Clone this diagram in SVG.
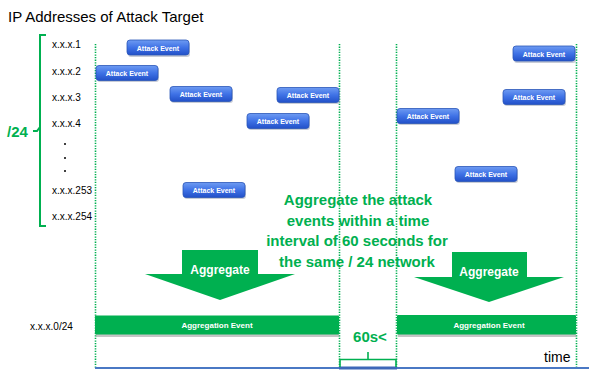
<svg xmlns="http://www.w3.org/2000/svg" width="589" height="372" viewBox="0 0 589 372">
<defs>
<linearGradient id="blue" x1="0" y1="0" x2="0" y2="1">
<stop offset="0" stop-color="#6E9BF2"/>
<stop offset="0.5" stop-color="#3F72E6"/>
<stop offset="1" stop-color="#2250C8"/>
</linearGradient>
<style>
text{font-family:"Liberation Sans",Arial,sans-serif}
.lbl{font-size:10px;fill:#000}
.ev rect.b{fill:url(#blue);stroke:#2A55B8;stroke-width:0.8}
.ev rect.s{fill:#9AA3B5;opacity:0.55}
.ev text{font-size:7px;font-weight:bold;fill:#fff;text-anchor:middle}
.agg rect.b{fill:#00B050}
.agg rect.s{fill:#8C8C8C;opacity:0.5}
.agg text{font-size:8px;font-weight:bold;fill:#fff;text-anchor:middle}
.dot{stroke:#00B050;stroke-width:1.6;stroke-dasharray:1.3 1.3;fill:none}
.gtxt{font-weight:bold;fill:#00B050;text-anchor:middle}
.arr polygon{fill:#00B050}
.arr text{font-size:12px;font-weight:bold;fill:#fff;text-anchor:middle}
</style>
</defs>
<rect width="589" height="372" fill="#fff"/>

<text x="8" y="22" style="font-size:15px" fill="#000">IP Addresses of Attack Target</text>

<g id="bracket24">
<path d="M46,35 H40 V226 H46 M40,127 L37,131 H33" fill="none" stroke="#00B050" stroke-width="2"/>
<text x="7" y="137" style="font-size:15px;font-weight:bold;fill:#00B050;text-anchor:start">/24</text>
</g>

<g id="ip-labels">
<text class="lbl" x="52" y="48">x.x.x.1</text>
<text class="lbl" x="52" y="75">x.x.x.2</text>
<text class="lbl" x="52" y="101">x.x.x.3</text>
<text class="lbl" x="52" y="127">x.x.x.4</text>
<circle cx="65" cy="144" r="1" fill="#000"/>
<circle cx="65" cy="158" r="1" fill="#000"/>
<circle cx="65" cy="171" r="1" fill="#000"/>
<text class="lbl" x="52" y="194">x.x.x.253</text>
<text class="lbl" x="52" y="220">x.x.x.254</text>
<text class="lbl" x="30" y="330">x.x.x.0/24</text>
</g>

<g id="windows">
<line class="dot" x1="95.5" y1="44" x2="95.5" y2="368"/>
<line class="dot" x1="339.5" y1="44" x2="339.5" y2="368"/>
<line class="dot" x1="396.5" y1="44" x2="396.5" y2="368"/>
<line class="dot" x1="576.5" y1="44" x2="576.5" y2="368"/>
</g>

<g id="ev1" class="ev"><rect class="s" x="128" y="42" width="62" height="15" rx="3"/><rect class="b" x="127" y="40" width="62" height="15" rx="3"/><text x="158" y="50.5">Attack Event</text></g>
<g id="ev2" class="ev"><rect class="s" x="97" y="67" width="62" height="15" rx="3"/><rect class="b" x="96" y="65.5" width="62" height="15" rx="3"/><text x="127" y="76">Attack Event</text></g>
<g id="ev3" class="ev"><rect class="s" x="171" y="88" width="62" height="15" rx="3"/><rect class="b" x="170" y="86.5" width="62" height="15" rx="3"/><text x="201" y="97">Attack Event</text></g>
<g id="ev4" class="ev"><rect class="s" x="278" y="89" width="62" height="15" rx="3"/><rect class="b" x="277" y="87.5" width="62" height="15" rx="3"/><text x="308" y="98">Attack Event</text></g>
<g id="ev5" class="ev"><rect class="s" x="248" y="115" width="62" height="15" rx="3"/><rect class="b" x="247" y="113.5" width="62" height="15" rx="3"/><text x="278" y="124">Attack Event</text></g>
<g id="ev6" class="ev"><rect class="s" x="184" y="184" width="62" height="15" rx="3"/><rect class="b" x="183" y="182.5" width="62" height="15" rx="3"/><text x="214" y="193">Attack Event</text></g>
<g id="ev7" class="ev"><rect class="s" x="514" y="48" width="62" height="15" rx="3"/><rect class="b" x="513" y="46" width="62" height="15" rx="3"/><text x="544" y="56.5">Attack Event</text></g>
<g id="ev8" class="ev"><rect class="s" x="504" y="91" width="62" height="15" rx="3"/><rect class="b" x="503" y="89.5" width="62" height="15" rx="3"/><text x="534" y="100">Attack Event</text></g>
<g id="ev9" class="ev"><rect class="s" x="398" y="110" width="62" height="15" rx="3"/><rect class="b" x="397" y="108.5" width="62" height="15" rx="3"/><text x="428" y="119">Attack Event</text></g>
<g id="ev10" class="ev"><rect class="s" x="456" y="168" width="62" height="15" rx="3"/><rect class="b" x="455" y="166.5" width="62" height="15" rx="3"/><text x="486" y="177">Attack Event</text></g>

<g id="note">
<text class="gtxt" style="font-size:15px" x="358" y="205">Aggregate the attack</text>
<text class="gtxt" style="font-size:15px" x="358" y="225.5">events within a time</text>
<text class="gtxt" style="font-size:15px" x="357" y="246">interval of 60 seconds for</text>
<text class="gtxt" style="font-size:15px" x="357" y="266.5">the same / 24 network</text>
</g>

<g id="aggregate1" class="arr">
<polygon points="182,250 258,250 258,274 295,274 220,300 145,274 182,274"/>
<text x="220" y="274">Aggregate</text>
</g>
<g id="aggregate2" class="arr">
<polygon points="452,252 527,252 527,277 564,277 489,302 414,277 452,277"/>
<text x="489" y="276">Aggregate</text>
</g>

<g id="agg1" class="agg"><rect class="s" x="96" y="333" width="243" height="4"/><rect class="b" x="95" y="315.5" width="244" height="19" rx="1"/><text x="217" y="328">Aggregation Event</text></g>
<g id="agg2" class="agg"><rect class="s" x="398" y="333" width="178" height="4"/><rect class="b" x="397" y="315" width="179" height="19.5" rx="1"/><text x="489" y="328">Aggregation Event</text></g>

<g id="connectors">
<line x1="95" y1="368" x2="589" y2="368" stroke="#4A78C4" stroke-width="2"/>
<line x1="339" y1="368" x2="397" y2="368" stroke="#3D68B8" stroke-width="3"/>
<path d="M340,367 V359.5 H396 V367 M368,359.5 V352" fill="none" stroke="#00B050" stroke-width="1.6"/>
</g>

<text class="gtxt" style="font-size:15px" x="370" y="342">60s&lt;</text>
<text x="544" y="362" style="font-size:14px" fill="#000">time</text>
</svg>
